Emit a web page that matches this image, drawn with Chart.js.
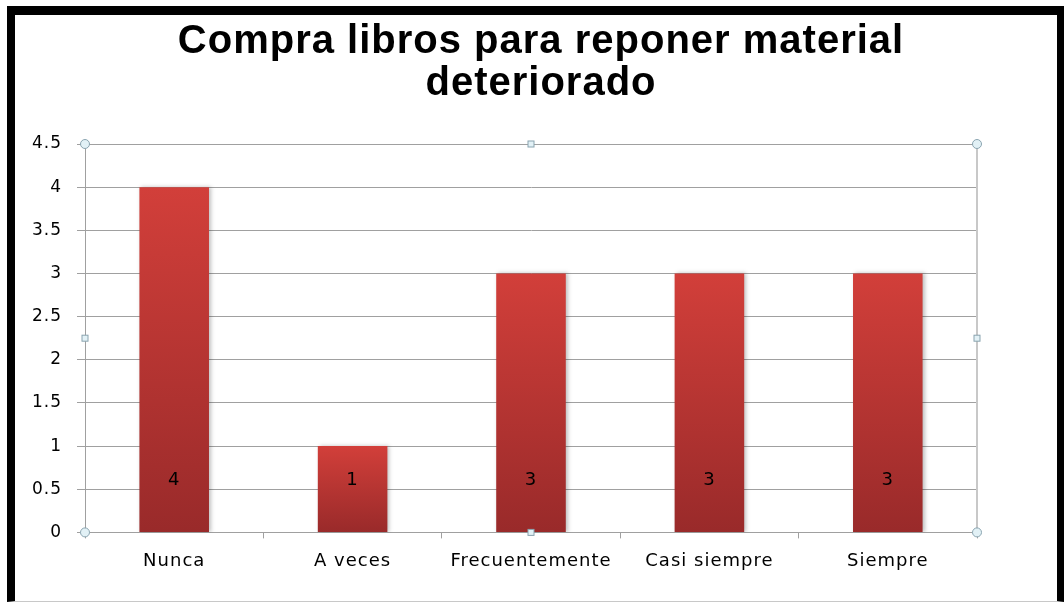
<!DOCTYPE html>
<html>
<head>
<meta charset="utf-8">
<script src="https://cdn.jsdelivr.net/npm/chart.js@4.4.0/dist/chart.umd.min.js"></script>
<style>
  html, body { margin: 0; padding: 0; background: #fff; }
  #wrap { position: relative; width: 1064px; height: 603px; }
  #frame {
    position: absolute; left: 7px; top: 6px; right: 0; bottom: 1px;
    border-left: 8px solid #000; border-top: 9px solid #000;
    border-right: 7px solid #000; border-bottom: 1px solid #c8c8c8;
    pointer-events: none;
  }
</style>
</head>
<body>
<div id="wrap">
  <canvas id="chart" width="1064" height="603"></canvas>
  <div id="frame"></div>
</div>
<script>
const categories = ['Nunca', 'A veces', 'Frecuentemente', 'Casi siempre', 'Siempre'];
const values = [4, 1, 3, 3, 3];
const titleLines = ['Compra libros para reponer material', 'deteriorado'];

const tickFont = { family: 'DejaVu Sans', size: 18 };

// gradient per bar, light red on top, dark red at bottom
function barGradient(context) {
  const chart = context.chart;
  if (!chart.chartArea || !chart.scales.y) return '#c0392b';
  const y = chart.scales.y;
  const top = y.getPixelForValue(context.raw);
  const bottom = y.getPixelForValue(0);
  const g = chart.ctx.createLinearGradient(0, top, 0, bottom);
  g.addColorStop(0, '#d23f3a');
  g.addColorStop(1, '#992a2a');
  return g;
}

const extras = {
  id: 'extras',
  beforeDraw(chart) {
    chart.ctx.letterSpacing = '1px';
  },
  beforeDatasetsDraw(chart) {
    const ctx = chart.ctx;
    ctx.save();
    ctx.shadowColor = 'rgba(0,0,0,0.25)';
    ctx.shadowBlur = 4;
    ctx.shadowOffsetX = 2;
  },
  afterDatasetsDraw(chart) {
    const ctx = chart.ctx;
    ctx.restore();
    const y = chart.scales.y;
    const meta = chart.getDatasetMeta(0);
    ctx.save();
    ctx.font = '18px "DejaVu Sans"';
    ctx.fillStyle = '#000';
    ctx.textAlign = 'center';
    ctx.textBaseline = 'middle';
    meta.data.forEach((bar, i) => {
      ctx.fillText(String(values[i]), bar.x, y.getPixelForValue(0.6));
    });
    ctx.restore();
  },
  afterDraw(chart) {
    const ctx = chart.ctx;
    const a = chart.chartArea;
    ctx.save();
    // right edge of plot area
    ctx.strokeStyle = '#c8c8c8';
    ctx.lineWidth = 2;
    ctx.beginPath();
    ctx.moveTo(a.right, a.top);
    ctx.lineTo(a.right, a.bottom);
    ctx.stroke();
    // selection handles
    ctx.lineWidth = 1;
    ctx.strokeStyle = '#8aa4b0';
    ctx.fillStyle = '#e2f1f6';
    const midX = (a.left + a.right) / 2;
    const midY = (a.top + a.bottom) / 2;
    [[a.left, a.top], [a.right, a.top], [a.left, a.bottom], [a.right, a.bottom]].forEach(([x, yy]) => {
      ctx.beginPath();
      ctx.arc(x, yy, 4.5, 0, Math.PI * 2);
      ctx.fill();
      ctx.stroke();
    });
    [[midX, a.top], [midX, a.bottom], [a.left, midY], [a.right, midY]].forEach(([x, yy]) => {
      ctx.fillRect(x - 3, yy - 3, 6, 6);
      ctx.strokeRect(x - 3, yy - 3, 6, 6);
    });
    ctx.restore();
  }
};

new Chart(document.getElementById('chart'), {
  type: 'bar',
  data: {
    labels: categories,
    datasets: [{
      data: values,
      backgroundColor: barGradient,
      borderWidth: 0,
      categoryPercentage: 1,
      barPercentage: 0.39
    }]
  },
  options: {
    responsive: false,
    animation: false,
    layout: { padding: { left: 18, right: 0, top: 21, bottom: 19 } },
    plugins: {
      legend: { display: false },
      tooltip: { enabled: false },
      title: {
        display: true,
        text: titleLines,
        color: '#000',
        font: { family: 'Liberation Sans', size: 40, weight: 'bold', lineHeight: 1.05 },
        padding: { top: 0, bottom: 39 }
      }
    },
    scales: {
      x: {
        grid: { drawOnChartArea: false, drawTicks: true, tickLength: 6, color: '#a0a0a0' },
        border: { display: true, color: '#a0a0a0' },
        ticks: { color: '#000', font: tickFont, padding: 12 }
      },
      y: {
        min: 0,
        max: 4.5,
        afterFit(scale) { scale.width = 67; },
        grid: { color: '#a0a0a0', tickLength: 8, drawTicks: true },
        border: { display: true, color: '#a0a0a0' },
        ticks: {
          stepSize: 0.5,
          color: '#000',
          font: { family: 'DejaVu Sans', size: 17 },
          padding: 15,
          callback: v => String(v)
        }
      },
      // empty right-hand axis only to keep the plot's right margin
      yRight: {
        position: 'right',
        display: true,
        afterFit(scale) { scale.width = 87; },
        grid: { display: false },
        border: { display: false },
        ticks: { display: false }
      }
    }
  },
  plugins: [extras]
});
</script>
</body>
</html>
